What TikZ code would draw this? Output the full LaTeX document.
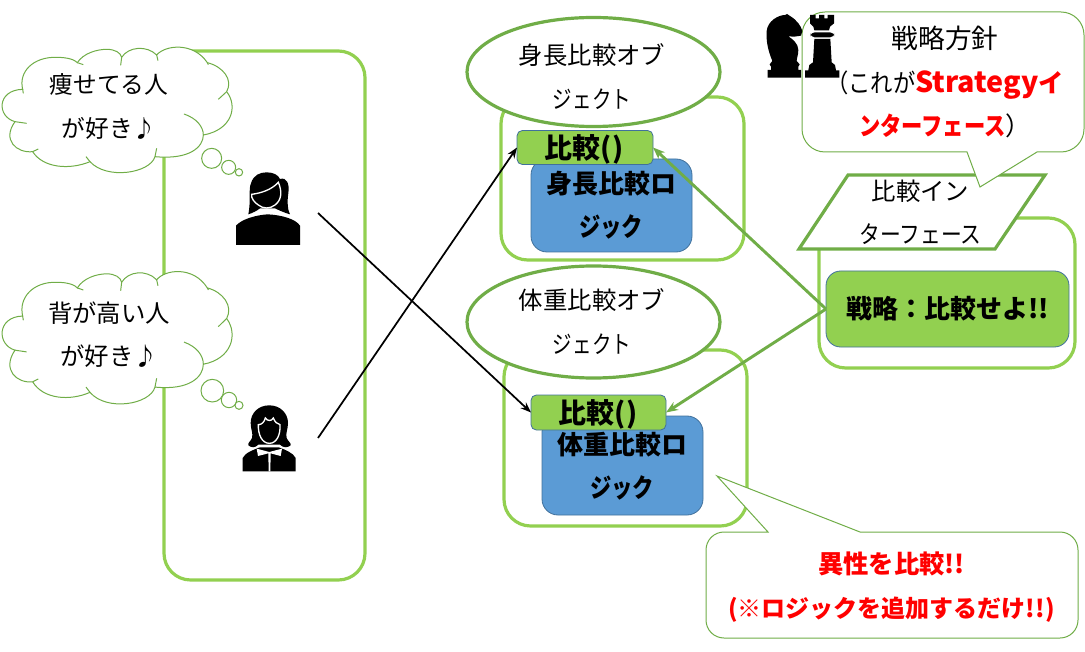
\documentclass[tikz,border=0pt]{standalone}
\usepackage{fontspec}
\setmainfont{Noto Sans CJK JP}
\usetikzlibrary{arrows.meta,shapes.geometric}
\definecolor{lgreen}{HTML}{92D050}
\definecolor{dgreen}{HTML}{70AD47}
\definecolor{lblue}{HTML}{5B9BD5}
\definecolor{sblue}{HTML}{41719C}
\newcommand{\narrowtext}[2]{\scalebox{#1}[1]{#2}}
\newcommand{\cloudshape}{
  \draw[cloudline,fill=white] (68,148) .. controls (55,95) and (100,50) .. (170,52) .. controls (205,52) and (225,60) .. (232,68)
   .. controls (250,40) and (290,28) .. (320,28) .. controls (345,28) and (362,38) .. (365,52)
   .. controls (385,20) and (440,15) .. (470,45)
   .. controls (495,15) and (580,5) .. (622,68)
   .. controls (670,80) and (700,120) .. (680,155)
   .. controls (715,200) and (695,270) .. (610,285)
   .. controls (610,320) and (570,360) .. (465,350)
   .. controls (450,400) and (320,420) .. (270,365)
   .. controls (210,390) and (130,385) .. (98,335)
   .. controls (50,340) and (5,300) .. (45,245)
   .. controls (-10,230) and (-10,150) .. (68,148) -- cycle;
  \draw[cloudline] (68,148) -- (70,160);
  \draw[cloudline] (232,68) -- (250,74);
  \draw[cloudline] (365,52) -- (362,76);
  \draw[cloudline] (470,45) -- (474,62);
  \draw[cloudline] (622,68) -- (625,74);
  \draw[cloudline] (680,155) -- (655,178);
  \draw[cloudline] (552,222) .. controls (590,235) and (610,260) .. (610,285);
  \draw[cloudline] (465,350) -- (470,325);
  \draw[cloudline] (270,365) -- (258,350);
  \draw[cloudline] (98,335) -- (115,327);
  \draw[cloudline] (45,245) -- (80,250);
}
\tikzset{
  cloudline/.style={draw=dgreen,line width=.75pt},
  lightbox/.style={rectangle,draw=lgreen,line width=2.4pt,rounded corners=20pt,fill=none,inner sep=0pt,outer sep=0pt},
  objoval/.style={ellipse,draw=dgreen,line width=2.4pt,fill=white,inner sep=0pt,outer sep=0pt},
  methodbox/.style={rectangle,draw=sblue,line width=.6pt,fill=lgreen,rounded corners=4pt,inner sep=0pt,outer sep=0pt},
  logicbox/.style={rectangle,draw=sblue,line width=.6pt,fill=lblue,rounded corners=12pt,inner sep=0pt,outer sep=0pt},
  txt/.style={align=center,inner sep=0pt,font=\fontsize{18.3}{32.5}\selectfont},
  btxt/.style={align=center,inner sep=0pt,font=\fontsize{19.5}{32.5}\selectfont\bfseries},
  mtxt/.style={align=center,inner sep=0pt,font=\fontsize{21}{32.5}\selectfont\bfseries},
  rtxt/.style={align=center,inner sep=0pt,text=red,font=\fontsize{18}{33.5}\selectfont\bfseries},
  blackarrow/.style={draw=black,line width=1.3pt,-{Stealth[length=8pt,width=6pt]}},
  greenarrow/.style={draw=dgreen,line width=2.2pt,-{Stealth[length=9pt,width=7pt]}},
  balloon/.style={draw=dgreen,line width=.75pt,fill=white},
  iconfill/.style={fill=black,draw=none},
}
\begin{document}
\begin{tikzpicture}[x=.75pt,y=-.75pt]
\useasboundingbox (0,0) rectangle (1085,652);
% containers
\node[lightbox,minimum width=201*.75pt,minimum height=529*.75pt] (leftbox) at (264.5,315.5) {};
\node[lightbox,minimum width=243*.75pt,minimum height=163*.75pt] (objbox1) at (622.5,178.5) {};
\node[lightbox,minimum width=243*.75pt,minimum height=176*.75pt] (objbox2) at (625.5,438) {};
\node[lightbox,minimum width=256*.75pt,minimum height=150*.75pt] (ifbox) at (947,293) {};
% clouds
\begin{scope}[shift={(0,40)},scale=1/3]
  \cloudshape
  \draw[cloudline,fill=white] (635,355) circle [radius=30];
  \draw[cloudline,fill=white] (686,382) circle [radius=21];
  \draw[cloudline,fill=white] (717,397) circle [radius=11];
\end{scope}
\begin{scope}[shift={(0,264)},xscale=1/3,yscale=1.055/3]
  \cloudshape
\end{scope}
\begin{scope}[shift={(0,260)},scale=1/3]
  \draw[cloudline,fill=white] (637,392) circle [radius=34];
  \draw[cloudline,fill=white] (687,420) circle [radius=23];
  \draw[cloudline,fill=white] (717,436) circle [radius=12];
\end{scope}
\node[txt,font=\fontsize{17.8}{32.5}\selectfont] (cloudtext1) at (109,106.5) {痩せてる人\\が好き♪};
\node[txt] (cloudtext2) at (109,335) {背が高い人\\が好き♪};
% woman 1
\begin{scope}[shift={(225,165)},scale=1/3]
  \fill[iconfill] (70,148) .. controls (78,110) and (70,70) .. (78,55) .. controls (85,30) and (105,22) .. (125,22)
    .. controls (145,22) and (160,30) .. (165,42) .. controls (185,36) and (194,55) .. (190,85)
    .. controls (186,110) and (188,135) .. (195,148) .. controls (175,142) and (160,135) .. (150,130) -- (105,130) .. controls (95,138) and (82,144) .. (70,148) -- cycle;
  \draw[iconfill,draw=white,line width=1pt] (80,88) .. controls (110,84) and (140,74) .. (160,52) .. controls (172,80) and (170,105) .. (150,120) .. controls (135,132) and (115,132) .. (100,120) .. controls (88,112) and (78,100) .. (80,88) -- cycle;
  \fill[iconfill] (33,240) -- (33,182) .. controls (50,162) and (95,150) .. (128,148) .. controls (170,150) and (212,162) .. (225,182) -- (225,240) -- cycle;
\end{scope}
\coordinate (woman1) at (318,213);
% woman 2
\begin{scope}[shift={(230,398)},scale=1/3]
  \fill[iconfill] (118,22) .. controls (85,22) and (62,45) .. (62,75) .. controls (62,95) and (70,105) .. (66,120) .. controls (62,130) and (52,135) .. (55,142) .. controls (65,150) and (75,150) .. (85,140) -- (150,140) .. controls (160,150) and (172,150) .. (182,142) .. controls (184,135) and (174,130) .. (170,120) .. controls (166,105) and (174,95) .. (174,75) .. controls (174,45) and (150,22) .. (118,22) -- cycle;
  \draw[iconfill,draw=white,line width=1pt] (85,80) .. controls (95,80) and (103,72) .. (106,60) .. controls (112,70) and (125,70) .. (130,60) .. controls (134,72) and (142,78) .. (150,80) .. controls (152,110) and (140,136) .. (118,136) .. controls (96,136) and (84,110) .. (85,80) -- cycle;
  \fill[iconfill] (38,220) -- (38,180) .. controls (45,165) and (70,155) .. (90,148) -- (146,148) .. controls (166,155) and (190,165) .. (197,180) -- (197,220) -- cycle;
  \fill[white] (80,152) -- (118,162) -- (156,152) -- (152,174) -- (122,166) -- (121,220) -- (116,220) -- (115,166) -- (84,174) -- cycle;
\end{scope}
\coordinate (woman2) at (318,438);
% object 1
\node[objoval,minimum width=253*.75pt,minimum height=109*.75pt] (oval1) at (593.5,72) {};
\node[logicbox,minimum width=161*.75pt,minimum height=93*.75pt] (logic1) at (611.5,205.5) {};
\node[methodbox,minimum width=136*.75pt,minimum height=34*.75pt] (method1) at (585,147.5) {};
\node[txt] (ovaltext1) at (592,76.5) {身長比較オブ\\\narrowtext{.8}{ジェクト}};
\node[mtxt] (mtext1) at (584,149) {比較()};
\node[btxt] (ltext1) at (611,205) {身長比較ロ\\\narrowtext{.82}{ジック}};
% object 2
\node[objoval,minimum width=253*.75pt,minimum height=112*.75pt] (oval2) at (593.5,322) {};
\node[logicbox,minimum width=161*.75pt,minimum height=99*.75pt] (logic2) at (622.5,465.5) {};
\node[methodbox,minimum width=135*.75pt,minimum height=35*.75pt] (method2) at (598.5,412.5) {};
\node[txt] (ovaltext2) at (592,321.5) {体重比較オブ\\\narrowtext{.8}{ジェクト}};
\node[mtxt] (mtext2) at (598,414) {比較()};
\node[btxt] (ltext2) at (622,466.5) {体重比較ロ\\\narrowtext{.82}{ジック}};
% interface
\coordinate (p1) at (799,249);
\coordinate (p2) at (848,175);
\coordinate (p3) at (1045,175);
\coordinate (p4) at (995,249);
\draw[draw=dgreen,line width=2.4pt,fill=white] (p1) -- (p2) -- (p3) -- (p4) -- cycle;
\node[txt,font=\fontsize{18.3}{32.5}\selectfont] (iftext) at (920.5,212) {比較イン\\\narrowtext{.85}{ターフェース}};
\node[methodbox,rounded corners=11pt,minimum width=243*.75pt,minimum height=76*.75pt] (strategy) at (947.5,309) {};
\node[btxt] (strategytext) at (947.5,309) {戦略：比較せよ!!};
% arrows
\draw[blackarrow] (woman1) -- (method2.west);
\draw[blackarrow] (woman2) -- (method1.west);
\draw[greenarrow] (strategy.west) -- (method1.east);
\draw[greenarrow] (strategy.west) -- (method2.east);
% top bubble
\draw[balloon] (825,12) -- (1061,12) arc[start angle=-90,end angle=0,radius=23] -- (1084,129) arc[start angle=0,end angle=90,radius=23] -- (1037,152) -- (980,187) -- (967,152) -- (825,152) arc[start angle=90,end angle=180,radius=23] -- (802,35) arc[start angle=180,end angle=270,radius=23] -- cycle;
\node[txt,font=\fontsize{19}{32.5}\selectfont] (bubbletext1) at (945,82) {{\fontsize{20}{32.5}\selectfont 戦略方針}\\\narrowtext{.88}{（これが}\textcolor{red}{\bfseries\fontsize{21.5}{32.5}\selectfont Strategy}\textcolor{red}{\bfseries イ}\\\textcolor{red}{\bfseries\narrowtext{.84}{ンターフェース}}）};
% chess icons
\begin{scope}[shift={(755,5)},scale=1/3]
  \fill[iconfill] (38,218) -- (38,195) -- (48,195) -- (48,185) -- (44,178) -- (52,168) .. controls (38,135) and (33,105) .. (35,78) .. controls (38,48) and (70,30) .. (90,30) -- (96,27) -- (105,33) .. controls (125,45) and (138,62) .. (142,78) -- (138,92) -- (118,95) -- (100,94) .. controls (112,102) and (130,115) .. (130,135) .. controls (130,150) and (125,160) .. (125,168) -- (134,178) -- (130,185) -- (130,195) -- (138,195) -- (138,218) -- cycle;
  \fill[iconfill] (165,30) -- (182,30) -- (182,40) -- (192,40) -- (192,30) -- (208,30) -- (208,40) -- (218,40) -- (218,30) -- (237,30) -- (237,55) -- (225,65) -- (222,76) -- (178,76) -- (175,65) -- (165,55) -- cycle;
  \fill[iconfill,rounded corners=3pt] (167,82) rectangle (237,97);
  \fill[iconfill] (178,102) -- (226,102) -- (230,172) -- (240,180) -- (243,196) -- (253,196) -- (253,218) -- (150,218) -- (150,196) -- (160,196) -- (163,180) -- (174,172) -- cycle;
\end{scope}
% bottom bubble
\draw[balloon] (724,532) -- (768,532) -- (717,476) -- (860,532) -- (1060,532) arc[start angle=-90,end angle=0,radius=18] -- (1078,620) arc[start angle=0,end angle=90,radius=18] -- (724,638) arc[start angle=90,end angle=180,radius=18] -- (706,550) arc[start angle=180,end angle=270,radius=18] -- cycle;
\node[rtxt] (bubbletext2) at (891.5,587) {{\fontsize{19}{33.5}\selectfont 異性を比較!!}\\(※ロジックを追加するだけ!!)};
\end{tikzpicture}
\end{document}
